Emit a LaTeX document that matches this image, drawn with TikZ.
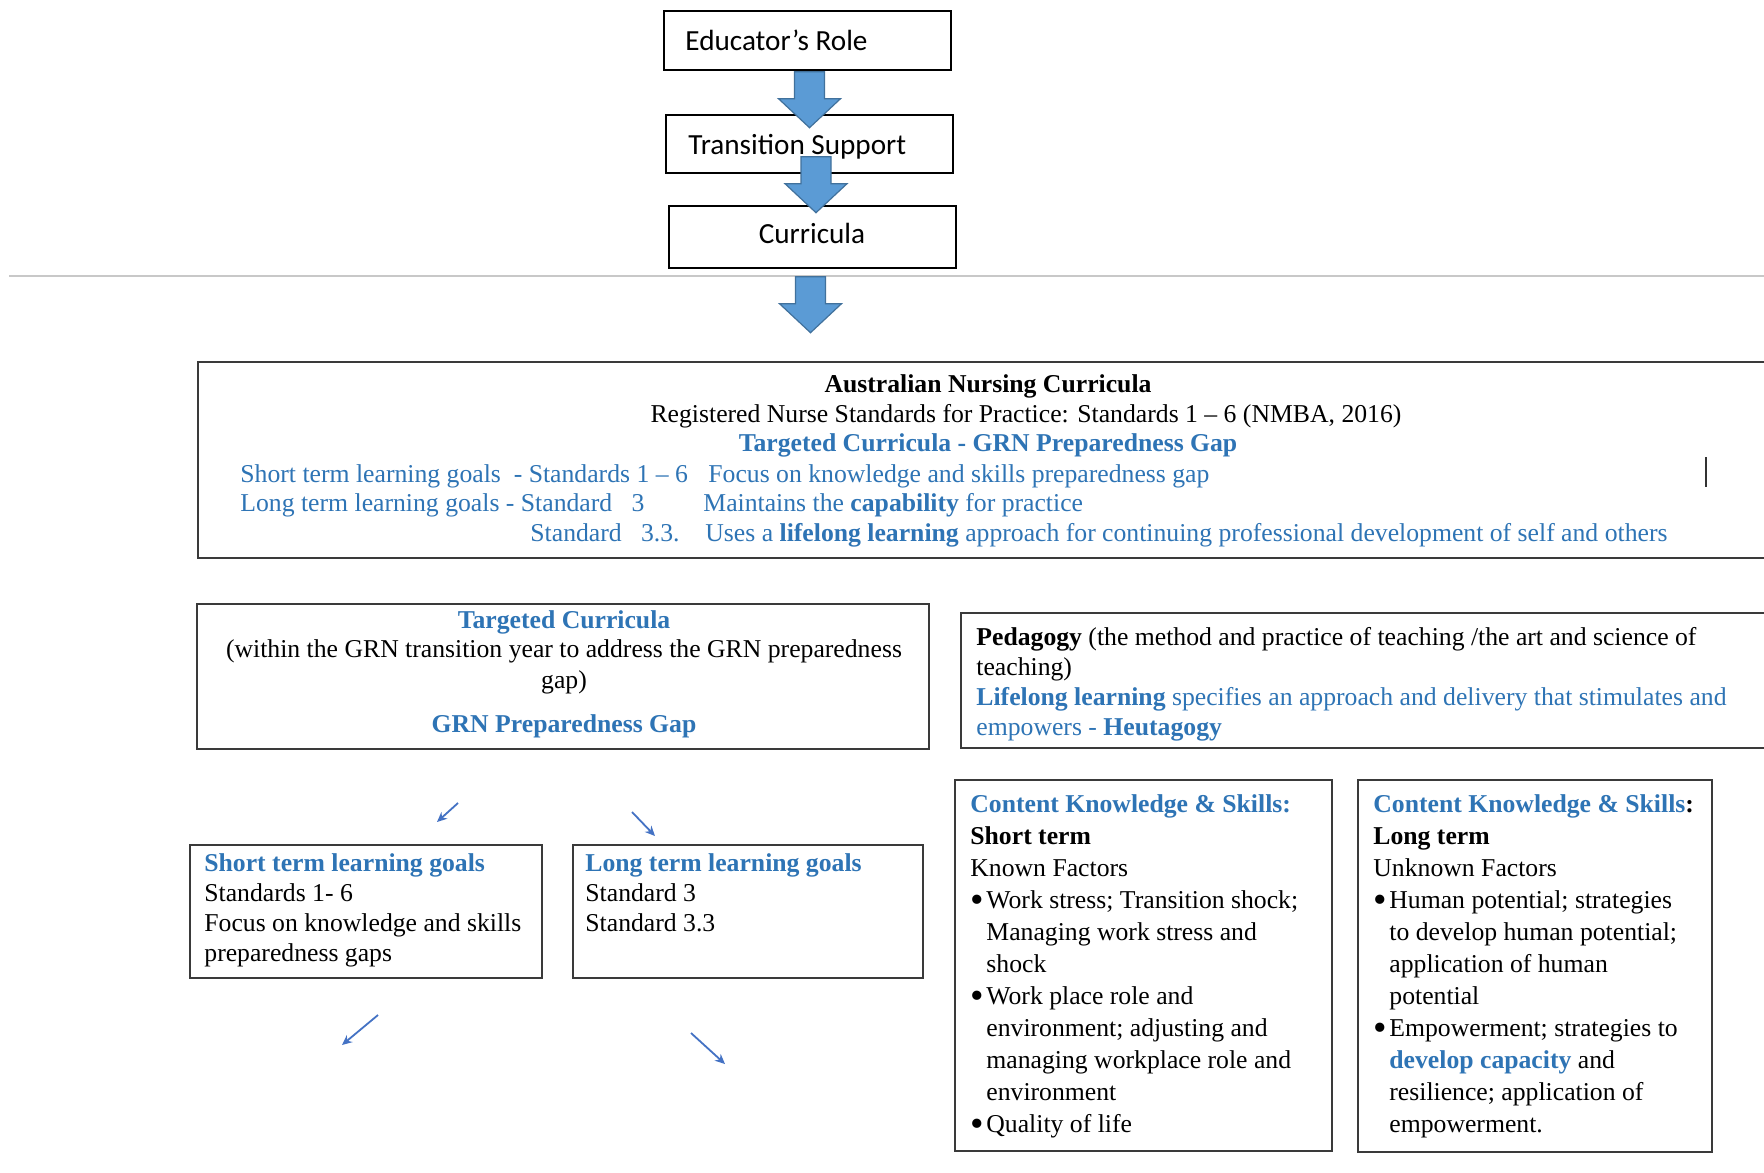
\documentclass[tikz,border=0pt]{standalone}
\usepackage{fontspec}
\setmainfont{Liberation Serif}
\newfontfamily\calibfont{Carlito}
\usetikzlibrary{arrows.meta,fit,calc}
\definecolor{linkblue}{HTML}{2E74B5}
\definecolor{arrowfill}{HTML}{5B9BD5}
\definecolor{arrowedge}{HTML}{41719C}
\definecolor{pointerblue}{HTML}{4472C4}
\definecolor{rulegray}{HTML}{C8C8C8}
\definecolor{framegray}{HTML}{3A3A3A}

\newcommand{\hl}[1]{\textcolor{linkblue}{#1}}
\newcommand{\hlb}[1]{\textcolor{linkblue}{\bfseries #1}}
\newcommand{\itm}{\makebox[8pt][l]{\raisebox{-2.2pt}{\scalebox{1.5}{\textbullet}}}}
\newcommand{\cont}{\hspace*{8pt}}

\tikzset{
  flowbox/.style={draw=black, line width=0.7pt, inner sep=0pt, fit={#1}},
  panel/.style={draw=framegray, line width=1pt, inner sep=0pt, fit={#1}},
  txt/.style={inner sep=0pt, anchor=base west, font=\fontsize{12.85}{15}\selectfont},
  ctxt/.style={inner sep=0pt, anchor=base, font=\fontsize{12.85}{15}\selectfont},
  flowtxt/.style={inner sep=0pt, anchor=base west, font=\calibfont\fontsize{14.6}{17}\selectfont},
  listtxt/.style={inner sep=0pt, anchor=north west, align=left, font=\fontsize{12.85}{16}\selectfont},
  pointer/.style={draw=pointerblue, line width=0.9pt, -{Stealth[length=5pt,width=4.5pt]}},
  blockarrow/.pic={
    \draw[fill=arrowfill, draw=arrowedge, line width=0.6pt, line join=miter]
      (-15,0) -- (15,0) -- (15,27) -- (31,27) -- (0,56) -- (-31,27) -- (-15,27) -- cycle;
  }
}

\begin{document}
\begin{tikzpicture}[x=0.5pt,y=-0.5pt]
\useasboundingbox[fill=white] (0,0) rectangle (1764,1172);

% ---- flow of the three headings ----
\node[flowbox={(664,11) (951,70)}] (role) {};
\node[flowbox={(666,115) (953,173)}] (trans) {};
\node[flowbox={(669,206) (956,268)}] (curr) {};
\node[flowtxt] (roletxt) at (685,51) {Educator’s Role};
\node[flowtxt] (transtxt) at (688,154) {Transition Support};
\node[flowtxt, anchor=base] (currtxt) at (812,243) {Curricula};

\pic at ($(role.south)+(2,1)$) {blockarrow};
\pic at ($(trans.south)+(6.5,-17)$) {blockarrow};

% separating rule
\coordinate (ruleL) at (9,276);
\coordinate (ruleR) at (1764,276);
\draw[rulegray, line width=1pt] (ruleL) -- (ruleR);

\pic at ($(curr.south)+(-2,8)$) {blockarrow};

% ---- Australian Nursing Curricula panel ----
\node[panel={(198,362) (1790,558)}] (anc) {};
\node[ctxt] (anctitle) at (988,392) {\bfseries Australian Nursing Curricula};
\node[ctxt] (ancrn) at (1026,422) {Registered Nurse Standards for Practice: Standards 1 – 6 (NMBA, 2016)};
\node[ctxt] (anctc) at (988,451) {\hlb{Targeted Curricula - GRN Preparedness Gap}};
\node[txt] (ancst) at (240,482) {\hl{Short term learning goals\ \ - Standards 1 – 6}};
\node[txt] (ancstf) at (708,482) {\hl{Focus on knowledge and skills preparedness gap}};
\node[txt] (anclt) at (240,511) {\hl{Long term learning goals - Standard\ \ \ 3}};
\node[txt] (ancltm) at (703,511) {\hl{Maintains the \textbf{capability} for practice}};
\node[txt] (ancs33) at (530,541) {\hl{Standard\ \ \ 3.3.}};
\node[txt] (ancs33u) at (705,541) {\hl{Uses a \textbf{lifelong learning} approach for continuing professional development of self and others}};
\coordinate (caretT) at (1706,457);
\coordinate (caretB) at (1706,487);
\draw[black!80, line width=0.8pt] (caretT) -- (caretB);

% ---- Targeted curricula panel ----
\node[panel={(197,604) (929,749)}] (tc) {};
\node[ctxt] (tctitle) at (564,628) {\hlb{Targeted Curricula}};
\node[ctxt] (tcl1) at (564,657) {(within the GRN transition year to address the GRN preparedness};
\node[ctxt] (tcl2) at (564,688) {gap)};
\node[ctxt] (tcgap) at (564,732) {\hlb{GRN Preparedness Gap}};

% ---- Pedagogy panel ----
\node[panel={(961,613) (1790,748)}] (ped) {};
\node[listtxt, font=\fontsize{12.85}{15}\selectfont] (pedtxt) at (976,627) {%
\textbf{Pedagogy} (the method and practice of teaching /the art and science of\\
teaching)\\
\hlb{Lifelong learning} \hl{specifies an approach and delivery that stimulates and}\\
\hl{empowers - }\hlb{Heutagogy}};

% ---- pointers towards the goal boxes ----
\coordinate (p1a) at (458,803);
\coordinate (p1b) at (437,822);
\coordinate (p2a) at (632,812);
\coordinate (p2b) at (655,836);
\draw[pointer] (p1a) -- (p1b);
\draw[pointer] (p2a) -- (p2b);

% ---- learning goal boxes ----
\node[panel={(190,845) (542,978)}] (stg) {};
\node[listtxt, font=\fontsize{12.85}{15}\selectfont] (stgtxt) at (204,853) {%
\hlb{Short term learning goals}\\
Standards 1- 6\\
Focus on knowledge and skills\\
preparedness gaps};
\node[panel={(573,845) (923,978)}] (ltg) {};
\node[listtxt, font=\fontsize{12.85}{15}\selectfont] (ltgtxt) at (585,853) {%
\hlb{Long term learning goals}\\
Standard 3\\
Standard 3.3};

\coordinate (p3a) at (378,1015);
\coordinate (p3b) at (342,1045);
\coordinate (p4a) at (691,1033);
\coordinate (p4b) at (725,1064);
\draw[pointer] (p3a) -- (p3b);
\draw[pointer] (p4a) -- (p4b);

% ---- content knowledge boxes ----
\node[panel={(955,780) (1332,1151)}] (cks) {};
\node[listtxt] (ckstxt) at (970,794) {%
\hlb{Content Knowledge \& Skills:}\\
\textbf{Short term}\\
Known Factors\\
\itm Work stress; Transition shock;\\
\cont Managing work stress and\\
\cont shock\\
\itm Work place role and\\
\cont environment; adjusting and\\
\cont managing workplace role and\\
\cont environment\\
\itm Quality of life};

\node[panel={(1358,780) (1712,1152)}] (ckl) {};
\node[listtxt] (ckltxt) at (1373,794) {%
\hlb{Content Knowledge \& Skills}\textbf{:}\\
\textbf{Long term}\\
Unknown Factors\\
\itm Human potential; strategies\\
\cont to develop human potential;\\
\cont application of human\\
\cont potential\\
\itm Empowerment; strategies to\\
\cont\hlb{develop capacity} and\\
\cont resilience; application of\\
\cont empowerment.};
\end{tikzpicture}
\end{document}
